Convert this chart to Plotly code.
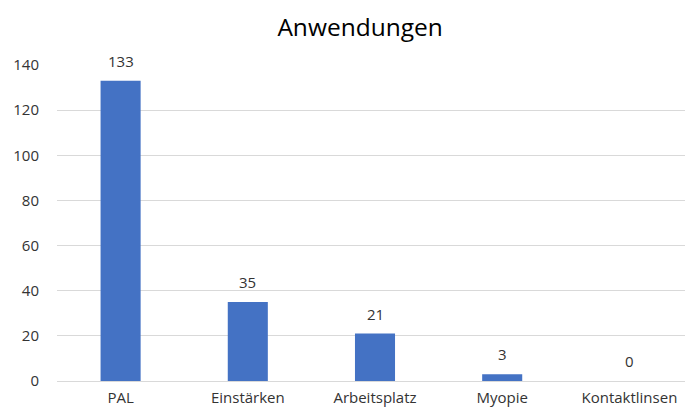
import plotly.graph_objects as go

categories = ["PAL", "Einstärken", "Arbeitsplatz", "Myopie", "Kontaktlinsen"]
values = [133, 35, 21, 3, 0]
title_text = "Anwendungen"
y_ticks = [0, 20, 40, 60, 80, 100, 120, 140]

FONT = "Open Sans"

fig = go.Figure(
    go.Bar(
        x=categories,
        y=values,
        marker=dict(color="#4472C4", line=dict(width=0)),
        hoverinfo="skip",
    )
)

for c, v in zip(categories, values):
    fig.add_annotation(
        x=c, y=v, text=str(v), showarrow=False,
        xref="x", yref="y", yanchor="bottom", yshift=8,
        font=dict(family=FONT, size=15, color="#333333"),
    )

# page body has an 8px margin; figure is sized to fit within the 693x412 window
fig.update_layout(
    width=685, height=404,
    margin=dict(l=49, r=0, t=57, b=31, autoexpand=False),
    paper_bgcolor="white", plot_bgcolor="white",
    bargap=0.685,
    showlegend=False,
    title=dict(text=title_text, x=0.514, xanchor="center", xref="container",
               y=0.953, yanchor="middle", yref="container",
               font=dict(family=FONT, size=24.5, color="#000000")),
    font=dict(family=FONT, size=15, color="#333333"),
)
fig.update_xaxes(
    showgrid=False, showline=True, linecolor="#d9d9d9", linewidth=1,
    ticks="", ticklabelstandoff=3,
    tickfont=dict(family=FONT, size=15, color="#333333"),
)
fig.update_yaxes(
    range=[0, 140], tickvals=y_ticks, showgrid=True, gridcolor="#d9d9d9",
    gridwidth=1, zeroline=False, showline=False, ticks="",
    ticklabelstandoff=17,
    tickfont=dict(family=FONT, size=15, color="#333333"),
)

fig.write_html("out.html")
